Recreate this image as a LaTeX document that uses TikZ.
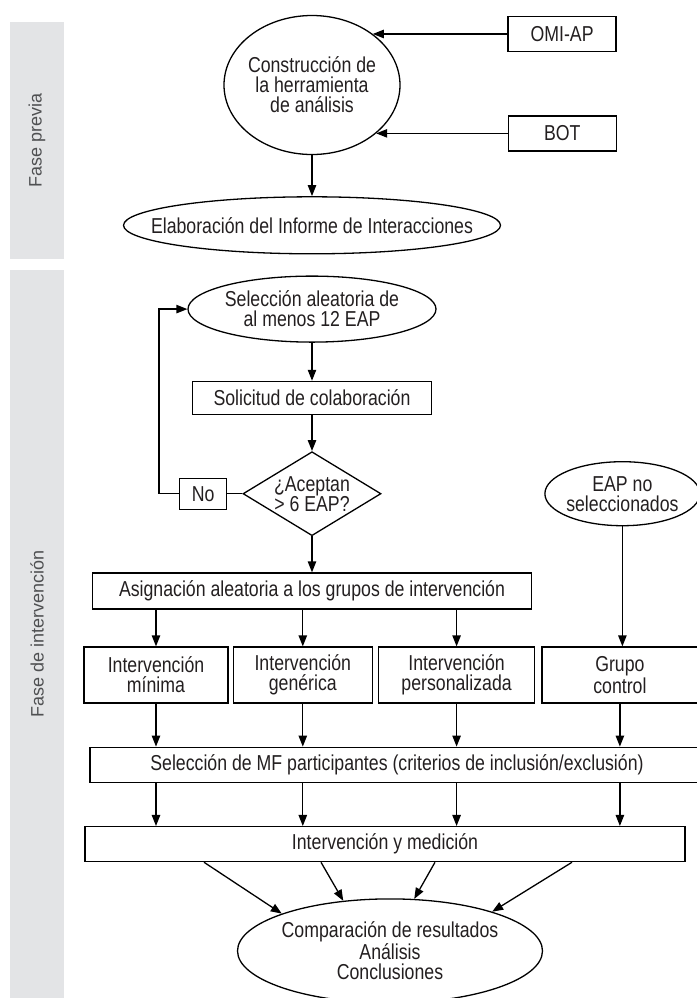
\documentclass[tikz,border=0pt]{standalone}
\usepackage{fontspec}
\setmainfont{Liberation Sans}[FakeStretch=0.82]
\newfontfamily\bandfont{Liberation Sans}
\usepackage{xcolor}
\usepackage{tikz}
\usetikzlibrary{positioning,arrows.meta,shapes.geometric}

\definecolor{bandgray}{HTML}{E3E4E6}
\definecolor{labelgray}{HTML}{4F5052}
\definecolor{inkgray}{HTML}{231F20}

\begin{document}
\begin{tikzpicture}[
      x=0.5pt, y=-0.5pt,
      font=\fontsize{10.8pt}{10pt}\selectfont,
      line width=0.65pt,
      box/.style={draw, rectangle, align=center, text=inkgray, inner sep=0pt},
      oval/.style={draw, ellipse, align=center, text=inkgray, inner sep=-4pt},
      decision/.style={draw, diamond, aspect=1.64, align=center, text=inkgray, inner sep=-1.5pt},
      band/.style={fill=bandgray, rotate=90, text=labelgray, minimum height=27pt,
                   font=\bandfont\fontsize{9pt}{10pt}\selectfont},
      arrow/.style={-{Triangle[length=5.5pt,width=4.2pt]}},
    ]
    \useasboundingbox (0,0) rectangle (697,998);

    % fases
    \node[band, minimum width=118.5pt] (fprev) at (37,140.5) {Fase previa};
    \node[band, minimum width=364pt] (finter) at (37,634) {Fase de intervención};

    % fase previa
    \node[oval, minimum width=88pt, minimum height=69.5pt] (cons) at (312,85) {Construcción de\\la herramienta\\de análisis};
    \node[box, minimum width=54pt, minimum height=17.5pt, right=67.3pt of cons.40] (omi) {OMI-AP};
    \node[box, minimum width=54pt, minimum height=17.5pt, right=65.7pt of cons.-37] (bot) {BOT};
    \node[oval, inner xsep=-14pt, minimum width=188.5pt, minimum height=28.5pt, below=20.5pt of cons] (elab) {Elaboración del Informe de Interacciones};

    % fase de intervencion
    \node[oval, minimum width=124pt, minimum height=33pt, below=10.5pt of elab] (sel) {Selección aleatoria de\\al menos 12 EAP};
    \node[box, minimum width=119.5pt, minimum height=16.5pt, below=19pt of sel] (sol) {Solicitud de colaboración};
    \node[decision, minimum width=69pt, minimum height=42pt, below=18pt of sol] (acep) {¿Aceptan\\> 6 EAP?};
    \node[box, minimum width=23.5pt, minimum height=15.5pt, left=7.5pt of acep] (no) {No};
    \node[box, minimum width=219.5pt, minimum height=18pt, below=18pt of acep] (asg) {Asignación aleatoria a los grupos de intervención};

    \node[box, minimum width=72pt, minimum height=28pt] (imin) at (156,675) {Intervención\\mínima};
    \node[box, minimum width=69.5pt, minimum height=28pt, right=2pt of imin] (igen) {Intervención\\genérica};
    \node[box, minimum width=78pt, minimum height=28pt, right=2.5pt of igen] (iper) {Intervención\\personalizada};
    \node[box, minimum width=78pt, minimum height=28pt, right=3pt of iper] (ctl) {Grupo\\control};
    \node[oval, minimum width=77.5pt, minimum height=32pt, above=60pt of ctl, xshift=1.25pt] (eap) {EAP no\\seleccionados};

    \node[box, minimum width=307pt, minimum height=17.5pt, below=21.5pt of imin.south west, anchor=north west, xshift=3pt] (mf) {Selección de MF participantes (criterios de inclusión/exclusión)};
    \node[box, minimum width=300pt, minimum height=17.5pt, below=21.5pt of mf.south west, anchor=north west, xshift=-2.5pt] (med) {Intervención y medición};
    \node[oval, minimum width=152.5pt, minimum height=52pt, below=18pt of med, xshift=2.5pt] (comp) {Comparación de resultados\\Análisis\\Conclusiones};

    % conectores
    \draw[arrow] (omi.west) -- (cons.40);
    \draw[arrow] (bot.west) -- (cons.-37);
    \draw[arrow] (cons) -- (elab);
    \draw[arrow] (sel) -- (sol);
    \draw[arrow] (sol) -- (acep);
    \draw (acep) -- (no);
    \draw[arrow] (no.west) -- ++(-20,0) |- (sel.west);
    \draw[arrow] (acep) -- (asg);
    \foreach \g in {imin,igen,iper}
      \draw[arrow] (asg.south -| \g.north) -- (\g.north);
    \draw[arrow] (eap.south) -- (eap.south |- ctl.north);
    \foreach \g in {imin,igen,iper,ctl} {
      \draw[arrow] (\g.south) -- (\g.south |- mf.north);
      \draw[arrow] (mf.south -| \g) -- (med.north -| \g);
    }
    \draw[arrow] ([xshift=-90.5pt]med.south) -- (comp.161);
    \draw[arrow] ([xshift=-32pt]med.south) -- (comp.133);
    \draw[arrow] ([xshift=25pt]med.south) -- (comp.65);
    \draw[arrow] ([xshift=93.5pt]med.south) -- (comp.21);
  \end{tikzpicture}
\end{document}
